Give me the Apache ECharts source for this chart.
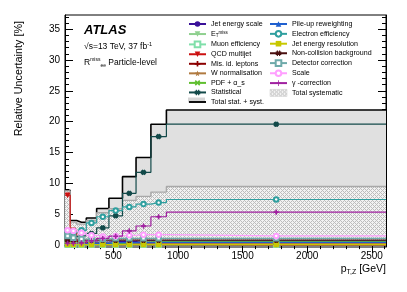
<!DOCTYPE html>
<html><head><meta charset="utf-8">
<script src="https://cdn.jsdelivr.net/npm/echarts@6/dist/echarts.min.js"></script>
<style>html,body{margin:0;padding:0;background:#fff}#c{width:407px;height:292px}</style>
</head><body><div id="c"></div>
<script>
// ---------- data ----------
const binEdges = [125, 165, 215, 290, 370, 465, 570, 675, 790, 910, 2610];
const xMajorTicks = [500, 1000, 1500, 2000, 2500];
const yMajorTicks = [0, 5, 10, 15, 20, 25, 30, 35];

const totalStatSyst = [8.9, 4.0, 3.7, 4.4, 5.95, 7.6, 11.1, 14.2, 19.6, 21.9];
const totalSyst     = [8.8, 3.75, 3.4, 4.0, 5.25, 5.9, 7.25, 7.9, 8.6, 9.5];
const statistical   = [1.3, 1.4, 1.5, 1.9, 2.8, 4.75, 8.4, 11.8, 17.6, 19.6];
const electronEff   = [2.3, 2.1, 2.4, 3.6, 4.6, 5.6, 6.2, 6.65, 6.9, 7.4];
const gammaCorr     = [0.3, 0.3, 0.35, 0.7, 1.1, 1.45, 2.3, 3.1, 4.6, 5.35];
const scaleUnc      = [2.4, 2.3, 2.0, 1.6, 1.4, 1.5, 1.6, 1.7, 1.7, 1.5];
const detCorr       = [1.5, 1.2, 1.0, 1.0, 1.0, 1.1, 1.1, 1.1, 1.1, 1.1];
const nonColl       = [0.8, 0.8, 0.8, 0.8, 0.8, 0.8, 0.8, 0.8, 0.8, 0.8];
const jetES         = [0.5, 0.4, 0.4, 0.5, 0.5, 0.6, 0.6, 0.7, 0.7, 0.7];
const pileup        = [0.3, 0.3, 0.3, 0.3, 0.3, 0.4, 0.4, 0.4, 0.45, 0.45];
const etmiss        = [0.2, 0.2, 0.2, 0.2, 0.2, 0.2, 0.2, 0.2, 0.2, 0.2];
const muonEff       = [0.05, 0.05, 0.05, 0.05, 0.05, 0.05, 0.05, 0.05, 0.05, 0.05];
const jer           = [0.1, 0.1, 0.1, 0.1, 0.1, 0.1, 0.1, 0.1, 0.1, 0.1];
const qcd           = [8.1, 2.4, 0.5, 0.2, 0.1, 0.1, 0.1, 0.1, 0.1, 0.05];
const misId         = [1.0, 0.6, 0.4, 0.3, 0.2, 0.2, 0.2, 0.2, 0.2, 0.2];
const wNorm         = [0.25, 0.25, 0.25, 0.25, 0.25, 0.25, 0.25, 0.25, 0.25, 0.25];
const pdf           = [0.5, 0.4, 0.3, 0.3, 0.3, 0.3, 0.4, 0.5, 0.6, 0.6];

// ---------- helpers ----------
const FONT = 'Liberation Sans, Arial, Helvetica, sans-serif';
const SYM = {
  plus: 'path://M3.5,0H6.5V3.5H10V6.5H6.5V10H3.5V6.5H0V3.5H3.5Z',
  thinplus: 'path://M4.3,0H5.7V4.3H10V5.7H5.7V10H4.3V5.7H0V4.3H4.3Z',
  hash: 'path://M2,0H4V10H2Z M6,0H8V10H6Z M0,2H10V4H0Z M0,6H10V8H0Z',
  cross: 'path://M0,2L2,0L5,3L8,0L10,2L7,5L10,8L8,10L5,7L2,10L0,8L3,5Z',
  star: 'path://M5,0L6.2,3.5L10,3.6L7,5.9L8.1,9.5L5,7.4L1.9,9.5L3,5.9L0,3.6L3.8,3.5Z',
  line: 'path://M0,0H20V2.2H0Z'
};
const centers = binEdges.slice(0, -1).map((e, i) => (e + binEdges[i + 1]) / 2);
function hist(vals) {
  const d = [];
  vals.forEach((v, i) => {
    d.push({ value: [binEdges[i], v], symbol: 'none' });
    d.push({ value: [centers[i], v] });
    d.push({ value: [binEdges[i + 1], v], symbol: 'none' });
  });
  return d;
}

// hatch pattern
const pc = document.createElement('canvas');
pc.width = 4; pc.height = 4;
const g = pc.getContext('2d');
g.fillStyle = '#f2f2f2'; g.fillRect(0, 0, 4, 4);
g.fillStyle = '#bdbdbd';
[[0,0],[2,2],[1,1],[3,3],[3,1],[1,3]].forEach(p => g.fillRect(p[0], p[1], 1, 1));
const hatch = { image: pc, repeat: 'repeat' };

function comp(name, vals, color, symbol, size, extra) {
  return Object.assign({
    name, type: 'line', data: hist(vals), color,
    symbol, symbolSize: size, showSymbol: true, showAllSymbol: true,
    lineStyle: { color, width: 1.2 }, itemStyle: { color, borderColor: color },
    emphasis: { disabled: true }, z: 3
  }, extra || {});
}

const series = [
  { name: 'Total stat. + syst.', type: 'line', data: hist(totalStatSyst), symbol: 'none', color: '#000',
    lineStyle: { color: '#000', width: 1.6 }, areaStyle: { color: '#e0e0e0', opacity: 1 }, z: 1, emphasis: { disabled: true } },
  { name: 'Total systematic', type: 'line', data: hist(totalSyst), symbol: 'none', color: '#aaaaaa',
    lineStyle: { color: '#a8a8a8', width: 1.4 }, areaStyle: { color: hatch, opacity: 1 }, z: 2, emphasis: { disabled: true } },
  comp('Jet energy scale', jetES, '#3a1199', 'circle', 4.5),
  comp('E_T^miss', etmiss, '#8fd08f', 'triangle', 4.5, { symbolRotate: 180 }),
  comp('Muon efficiency', muonEff, '#80dfaa', 'emptyRect', 4.5),
  comp('QCD multijet', qcd, '#cc1111', 'triangle', 4.5, { symbolRotate: 180 }),
  comp('Mis. id. leptons', misId, '#8b0000', SYM.plus, 4.5),
  comp('W normalisation', wNorm, '#b07a40', SYM.star, 5),
  comp('PDF + α_s', pdf, '#5fbf2f', SYM.cross, 5),
  comp('Statistical', statistical, '#134a4a', SYM.hash, 4.5),
  comp('Pile-up reweighting', pileup, '#1f5fcf', 'triangle', 4.5),
  comp('Electron efficiency', electronEff, '#2f9f9f', 'emptyCircle', 4.5),
  comp('Jet energy resolution', jer, '#c8c800', 'rect', 4.5),
  comp('Non-collision background', nonColl, '#4a1010', SYM.hash, 4.5),
  comp('Detector correction', detCorr, '#6faaaa', 'emptyRect', 4.5),
  comp('Scale', scaleUnc, '#ff9fff', 'emptyCircle', 4.5),
  comp('γ -correction', gammaCorr, '#a020a0', SYM.thinplus, 4.5)
];

const legendLeft = ['Jet energy scale', 'E_T^miss', 'Muon efficiency', 'QCD multijet', 'Mis. id. leptons',
  'W normalisation', 'PDF + α_s', 'Statistical',
  { name: 'Total stat. + syst.', icon: SYM.line, itemStyle: { color: '#000' } }];
const legendRight = ['Pile-up reweighting', 'Electron efficiency', 'Jet energy resolution', 'Non-collision background',
  'Detector correction', 'Scale', 'γ -correction',
  { name: 'Total systematic', icon: 'rect', itemStyle: { color: hatch, borderColor: '#c8c8c8', borderWidth: 0.5 } }];

const legendBase = {
  orient: 'vertical', top: 20.5, padding: 0, itemWidth: 17, itemHeight: 7, itemGap: 2.55, selectedMode: false,
  textStyle: { fontFamily: FONT, fontSize: 7.1, color: '#000',
    rich: { n: { fontFamily: FONT, fontSize: 7.1 }, sub: { fontFamily: FONT, fontSize: 4.5, verticalAlign: 'bottom', padding: [3, 0, 0, 0] },
            sup: { fontFamily: FONT, fontSize: 4.5, verticalAlign: 'top', padding: [0, 0, 3, 0] } } },
  formatter: n => n === 'E_T^miss' ? '{n|E}{sub|T}{sup|miss}' : n
};

function minorList(lo, hi, step, skip) {
  const a = [];
  for (let v = lo; v <= hi + 1e-9; v += step) { if (!skip.includes(v)) a.push(v); }
  return a;
}
const xMinor = minorList(200, 2600, 100, xMajorTicks);
const yMinor = minorList(1, 37, 1, yMajorTicks);

const xMin = binEdges[0], xMax = binEdges[binEdges.length - 1];
const yMin = -0.3, yMax = 37.3;
const axBase = { type: 'value', min: xMin, max: xMax, splitLine: { show: false } };
const ayBase = { type: 'value', min: yMin, max: yMax, splitLine: { show: false } };
const black = { color: '#000', width: 1 };
const plain = v => String(v);

const option = {
  animation: false,
  backgroundColor: '#fff',
  grid: { left: 65, right: 21, top: 15, bottom: 45, show: true, borderColor: '#000', borderWidth: 1, backgroundColor: 'transparent' },
  xAxis: [
    Object.assign({}, axBase, { position: 'bottom', axisLine: { show: true, lineStyle: black },
      axisTick: { inside: true, length: 8, lineStyle: black, customValues: xMajorTicks },
      axisLabel: { customValues: xMajorTicks, formatter: plain, fontFamily: FONT, fontSize: 10, color: '#000', margin: 4 },
      name: 'p{s|T,Z} [GeV]', nameLocation: 'end', nameGap: 0,
      nameTextStyle: { fontFamily: FONT, fontSize: 10.5, color: '#000', align: 'right', verticalAlign: 'top', padding: [17, 0, 0, 0],
        rich: { s: { fontFamily: FONT, fontSize: 7, verticalAlign: 'bottom', padding: [6, 0, 0, 0] } } } }),
    Object.assign({}, axBase, { position: 'bottom', axisLine: { show: false },
      axisTick: { inside: true, length: 4, lineStyle: black, customValues: xMinor }, axisLabel: { show: false } }),
    Object.assign({}, axBase, { position: 'top', axisLine: { show: true, lineStyle: black },
      axisTick: { inside: true, length: 8, lineStyle: black, customValues: xMajorTicks }, axisLabel: { show: false } }),
    Object.assign({}, axBase, { position: 'top', axisLine: { show: false },
      axisTick: { inside: true, length: 4, lineStyle: black, customValues: xMinor }, axisLabel: { show: false } })
  ],
  yAxis: [
    Object.assign({}, ayBase, { position: 'left', axisLine: { show: true, lineStyle: black },
      axisTick: { inside: true, length: 8, lineStyle: black, customValues: yMajorTicks },
      axisLabel: { customValues: yMajorTicks, formatter: plain, fontFamily: FONT, fontSize: 10, color: '#000', margin: 5 } }),
    Object.assign({}, ayBase, { position: 'left', axisLine: { show: false },
      axisTick: { inside: true, length: 4, lineStyle: black, customValues: yMinor }, axisLabel: { show: false } }),
    Object.assign({}, ayBase, { position: 'right', axisLine: { show: true, lineStyle: black },
      axisTick: { inside: true, length: 8, lineStyle: black, customValues: yMajorTicks }, axisLabel: { show: false } }),
    Object.assign({}, ayBase, { position: 'right', axisLine: { show: false },
      axisTick: { inside: true, length: 4, lineStyle: black, customValues: yMinor }, axisLabel: { show: false } })
  ],
  legend: [
    Object.assign({}, legendBase, { left: 188, data: legendLeft }),
    Object.assign({}, legendBase, { left: 269, data: legendRight })
  ],
  graphic: [
    { type: 'rect', shape: { x: 188, y: 97.5, width: 17, height: 5 }, style: { fill: '#d6d6d6' }, z: 0 },
    { type: 'text', x: 84, y: 30, style: { text: 'ATLAS', fontFamily: FONT, fontSize: 13, fontWeight: 'bold', fontStyle: 'italic', fill: '#000', verticalAlign: 'middle' } },
    { type: 'text', x: 84, y: 47, style: { text: '√s=13 TeV, 37 fb{u|-1}', fontFamily: FONT, fontSize: 8.5, fill: '#000', verticalAlign: 'middle',
        rich: { u: { fontFamily: FONT, fontSize: 5.5, verticalAlign: 'top', padding: [0, 0, 5, 0] } } } },
    { type: 'text', x: 84, y: 63, style: { text: 'R{u|miss}{d|ee} Particle-level', fontFamily: FONT, fontSize: 8.5, fill: '#000', verticalAlign: 'middle',
        rich: { u: { fontFamily: FONT, fontSize: 5, verticalAlign: 'top', padding: [0, 0, 6, 0] },
                d: { fontFamily: FONT, fontSize: 5, verticalAlign: 'bottom', padding: [5, 0, 0, 0] } } } },
    { type: 'text', x: 19, y: 21, rotation: Math.PI / 2, style: { text: 'Relative Uncertainty [%]', fontFamily: FONT, fontSize: 10.8, fill: '#000', align: 'right', verticalAlign: 'middle' } }
  ],
  series
};
const chart = echarts.init(document.getElementById('c'), null, { renderer: 'canvas' });
chart.setOption(option);
</script></body></html>
